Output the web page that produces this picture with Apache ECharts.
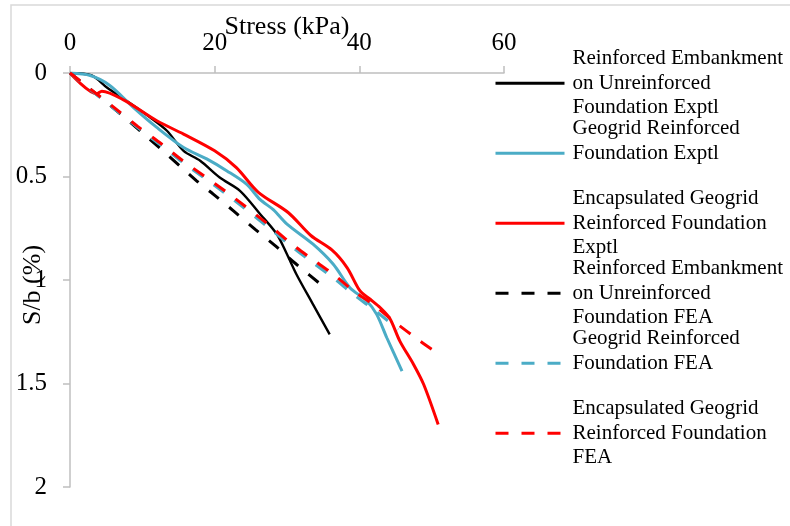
<!DOCTYPE html>
<html>
<head>
<meta charset="utf-8">
<script src="https://cdn.jsdelivr.net/npm/echarts@6/dist/echarts.min.js"></script>
<style>
  html, body { margin: 0; padding: 0; background: #fff; }
  #chart { width: 790px; height: 526px; }
</style>
</head>
<body>
<div id="chart"></div>
<script>
// Stress (kPa) vs settlement ratio S/b (%) — measured and FEA curves
const stressTicks = [0, 20, 40, 60];
const settleTicks = [0, 0.5, 1, 1.5, 2];

const embankmentExptl = [
  [0, 0], [3, 0.012], [5.1, 0.07], [7.8, 0.134], [11.1, 0.215], [13.4, 0.279],
  [15.7, 0.376], [18, 0.424], [20.7, 0.505], [23.5, 0.569], [26.3, 0.682],
  [28.6, 0.779], [30, 0.876], [31.3, 0.972], [33.6, 1.118], [35.9, 1.263]
];
const geogridExptl = [
  [0, 0], [2.8, 0.012], [5.5, 0.06], [8.75, 0.166], [12, 0.263], [15.7, 0.36],
  [18.9, 0.415], [21.7, 0.473], [24.4, 0.537], [26.3, 0.612], [28.1, 0.66],
  [30, 0.73], [33.6, 0.827], [36.4, 0.924], [38.7, 1.037], [41, 1.1],
  [42.4, 1.166], [43.8, 1.279], [45.9, 1.44]
];
const encapsulatedExptl = [
  [0, 0], [3.7, 0.1], [4.4, 0.088], [7.4, 0.13], [12, 0.231], [15.7, 0.295],
  [20, 0.376], [23, 0.457], [26, 0.575], [30.2, 0.675], [33.3, 0.785],
  [36.2, 0.855], [38.3, 0.94], [40.1, 1.053], [41.5, 1.093], [42.9, 1.134],
  [44.2, 1.185], [45.6, 1.295], [47.5, 1.408], [48.9, 1.505], [50.9, 1.698]
];
const embankmentFEA = [
  [0, 0], [4.2, 0.118], [9.7, 0.279], [17.5, 0.521], [19.8, 0.585], [22.6, 0.666],
  [25.6, 0.755], [28.4, 0.835], [31.3, 0.924], [35.5, 1.045]
];
const geogridFEA = [
  [0, 0], [2.8, 0.08], [6.2, 0.175], [9.4, 0.265], [12.7, 0.352], [15.6, 0.432],
  [21.4, 0.58], [27.4, 0.745], [30.4, 0.832], [33.2, 0.907], [36.4, 0.99],
  [39.2, 1.07], [41.9, 1.14], [45.4, 1.238]
];
const encapsulatedFEA = [
  [0, 0], [2.8, 0.077], [6.2, 0.17], [9.4, 0.259], [12.7, 0.344], [15.6, 0.424],
  [21.4, 0.569], [27.4, 0.731], [30.4, 0.819], [33.2, 0.892], [36.4, 0.972],
  [39.2, 1.053], [41.9, 1.118], [44.7, 1.198], [48.4, 1.295], [50.5, 1.347]
];

const seriesNames = [
  'Reinforced Embankment on Unreinforced Foundation Exptl',
  'Geogrid Reinforced Foundation Exptl',
  'Encapsulated Geogrid Reinforced Foundation Exptl',
  'Reinforced Embankment on Unreinforced Foundation FEA',
  'Geogrid Reinforced Foundation FEA',
  'Encapsulated Geogrid Reinforced Foundation FEA'
];
// wrapped legend text, three lines per entry
const legendLines = [
  'Reinforced Embankment\non Unreinforced\nFoundation Exptl',
  'Geogrid Reinforced\nFoundation Exptl\n ',
  'Encapsulated Geogrid\nReinforced Foundation\nExptl',
  'Reinforced Embankment\non Unreinforced\nFoundation FEA',
  'Geogrid Reinforced\nFoundation FEA\n ',
  'Encapsulated Geogrid\nReinforced Foundation\nFEA'
];
const seriesData = [embankmentExptl, geogridExptl, encapsulatedExptl,
                    embankmentFEA, geogridFEA, encapsulatedFEA];
const seriesColors = ['#000000', '#4bacc6', '#ff0000', '#000000', '#4bacc6', '#ff0000'];
const seriesWidths = [2.4, 3, 3, 3, 3, 3];
const seriesDash = ['solid', 'solid', 'solid', [13, 13], [13, 13], [13, 13]];

const FONT = '"Liberation Serif", "Times New Roman", serif';
const AXIS_GRAY = '#bfbfbf';

const chart = echarts.init(document.getElementById('chart'), null, { renderer: 'canvas' });

chart.setOption({
  backgroundColor: '#fff',
  animation: false,
  graphic: [{
    type: 'rect', silent: true, z: -1,
    shape: { x: 11, y: 5, width: 820, height: 600 },
    style: { fill: 'none', stroke: '#d9d9d9', lineWidth: 1.5 }
  }],
  grid: { left: 70, top: 73, right: 286, bottom: 39, containLabel: false, outerBoundsMode: 'none' },
  xAxis: {
    type: 'value', position: 'top',
    min: stressTicks[0], max: stressTicks[stressTicks.length - 1], interval: 20,
    axisLine: { show: true, onZero: false, lineStyle: { color: AXIS_GRAY, width: 1.5 } },
    axisTick: { show: true, length: 7, lineStyle: { color: AXIS_GRAY, width: 1.5 } },
    splitLine: { show: false },
    axisLabel: { fontSize: 25, color: '#000', fontFamily: FONT, margin: 17 },
    name: 'Stress (kPa)', nameLocation: 'middle', nameGap: 33, nameMoveOverlap: false,
    nameTextStyle: { fontSize: 26, color: '#000', fontFamily: FONT }
  },
  yAxis: {
    type: 'value', inverse: true,
    min: settleTicks[0], max: settleTicks[settleTicks.length - 1], interval: 0.5,
    axisLine: { show: true, onZero: false, lineStyle: { color: AXIS_GRAY, width: 1.5 } },
    axisTick: { show: true, length: 7, lineStyle: { color: AXIS_GRAY, width: 1.5 } },
    splitLine: { show: false },
    axisLabel: { fontSize: 25, color: '#000', fontFamily: FONT, margin: 23 },
    name: 'S/b (%)', nameLocation: 'middle', nameGap: 24, nameMoveOverlap: false,
    nameTextStyle: { fontSize: 26, color: '#000', fontFamily: FONT, padding: [0, 10, 0, 0] }
  },
  legend: {
    orient: 'vertical', left: 494, top: 22, padding: 0,
    itemWidth: 69, itemHeight: 14, itemGap: -52.5,
    data: seriesNames,
    formatter: name => legendLines[seriesNames.indexOf(name)],
    lineStyle: { width: 3 },
    itemStyle: { color: 'rgba(0,0,0,0)', borderWidth: 0, borderColor: 'rgba(0,0,0,0)' },
    textStyle: { fontSize: 21, lineHeight: 24.5, color: '#000', fontFamily: FONT, padding: [49, 0, 0, 3] }
  },
  series: seriesNames.map((name, i) => ({
    name,
    type: 'line',
    data: seriesData[i],
    symbol: 'none',
    smooth: 0.3,
    lineStyle: { color: seriesColors[i], width: seriesWidths[i], type: seriesDash[i], cap: 'butt' },
    itemStyle: { color: seriesColors[i] },
    z: 2 + i
  }))
});
</script>
</body>
</html>
